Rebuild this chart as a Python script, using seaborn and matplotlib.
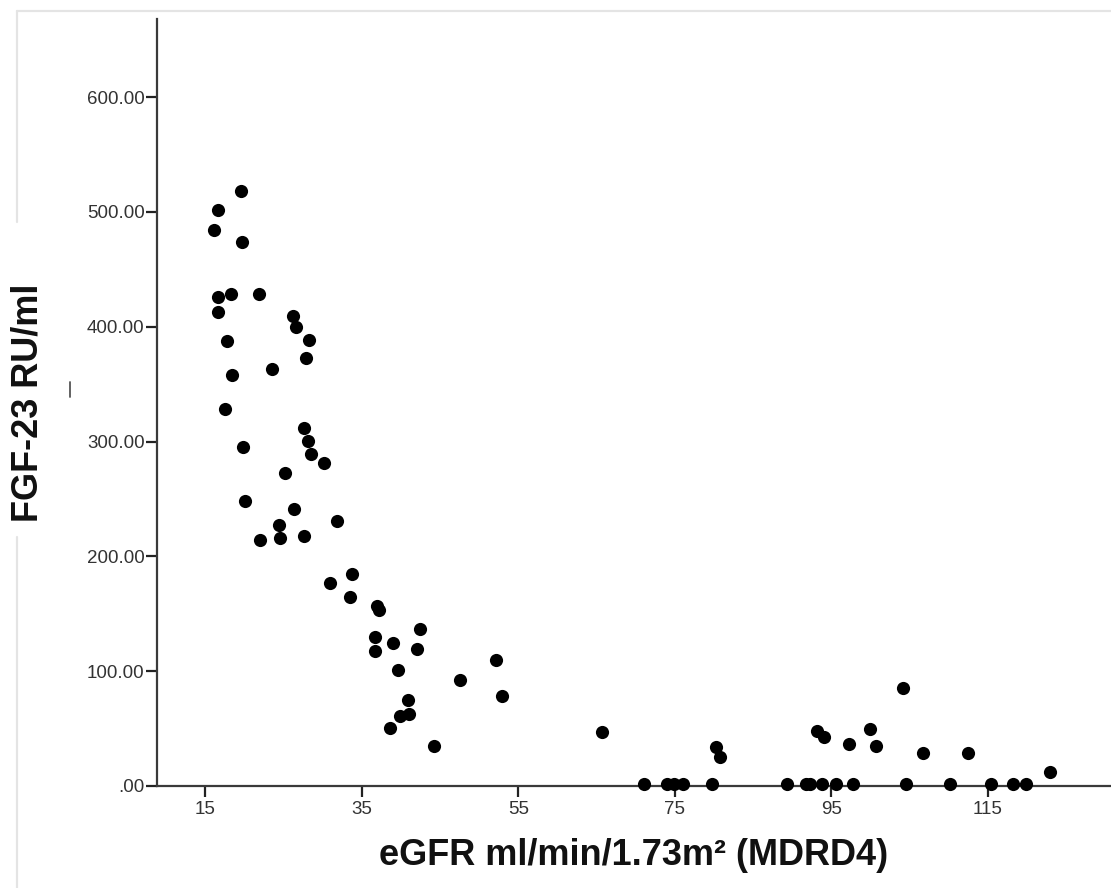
import matplotlib
matplotlib.use("Agg")
import matplotlib.pyplot as plt
from matplotlib.lines import Line2D
import seaborn as sns
import pandas as pd

# ---- data ----
egfr = [19.6, 16.7, 16.1, 19.7, 16.6, 18.3, 21.9, 16.7, 26.3, 26.6,
        28.3, 17.8, 27.9, 23.5, 18.5, 17.6, 27.6, 28.2, 28.5, 19.9,
        30.2, 25.2, 20.1, 26.4, 31.9, 24.5, 22.0, 24.6, 27.6, 33.8,
        30.9, 33.5, 37.0, 37.2, 42.4, 36.7, 39.0, 36.7, 42.1, 39.6,
        47.6, 40.9, 39.9, 41.1, 38.6, 44.2, 52.2, 52.9, 65.7, 80.2,
        80.8, 93.1, 94.1, 97.2, 99.9, 100.7, 104.1, 106.7, 112.5, 122.9,
        71.0, 74.0, 74.9, 76.1, 79.7, 89.3, 91.7, 92.2, 93.8, 95.6,
        97.7, 104.5, 110.2, 115.4, 118.2, 119.9]
fgf23 = [518.6, 502.0, 484.0, 473.6, 425.7, 428.3, 428.3, 413.0, 409.6, 399.5,
         388.5, 387.6, 373.1, 363.2, 358.3, 328.4, 312.1, 300.5, 289.2, 295.6,
         281.4, 272.9, 248.3, 241.6, 231.1, 227.0, 214.0, 216.3, 218.0, 184.4,
         177.1, 164.9, 156.8, 153.3, 136.8, 129.8, 124.8, 117.9, 119.1, 101.0,
         92.1, 74.9, 61.2, 63.0, 50.2, 34.6, 109.8, 78.7, 47.3, 33.7,
         25.5, 48.2, 42.3, 37.0, 49.7, 34.6, 85.1, 28.7, 28.7, 12.3,
         1.7, 1.7, 1.7, 1.7, 1.7, 1.7, 1.7, 1.7, 1.7, 1.7,
         1.7, 1.7, 1.7, 1.7, 1.7, 1.7]

x_ticks = [15, 35, 55, 75, 95, 115]
x_tick_labels = ["15", "35", "55", "75", "95", "115"]
y_ticks = [0, 100, 200, 300, 400, 500, 600]
y_tick_labels = [".00", "100.00", "200.00", "300.00", "400.00", "500.00", "600.00"]

x_label = "eGFR ml/min/1.73m² (MDRD4)"
y_label = "FGF-23 RU/ml"

df = pd.DataFrame({"egfr": egfr, "fgf23": fgf23})

sns.set_theme(style="white")
plt.rcParams["font.family"] = ["Liberation Sans", "DejaVu Sans"]

W, H = 1111, 888
fig = plt.figure(figsize=(W / 100, H / 100), dpi=100)
ax = fig.add_axes([157 / W, 1 - 786 / H, (W - 157) / W, (786 - 19) / H])

sns.scatterplot(data=df, x="egfr", y="fgf23", ax=ax, color="black",
                s=90, edgecolor="black", linewidth=0, clip_on=False, zorder=3)

ax.set_xlim(8.87, 130.7)
ax.set_ylim(0, 668)

ax.set_xticks(x_ticks)
ax.set_xticklabels(x_tick_labels)
ax.set_yticks(y_ticks)
ax.set_yticklabels(y_tick_labels)

for side in ["top", "right"]:
    ax.spines[side].set_visible(False)
for side in ["left", "bottom"]:
    ax.spines[side].set_color("#3a3a3a")
    ax.spines[side].set_linewidth(1.6)

ax.tick_params(axis="both", which="major", direction="out", length=8,
               width=1.6, color="#222222", labelsize=13.5,
               labelcolor="#333333", pad=3, bottom=True, left=True)
ax.tick_params(axis="y", pad=1)

ax.set_xlabel(x_label, fontsize=26, fontweight="bold", color="#111111", va="center")
ax.xaxis.set_label_coords(0.5, -0.09)
ax.set_ylabel(y_label, fontsize=26, fontweight="bold", color="#111111", va="center")
ax.yaxis.set_label_coords((28 - 157) / (W - 157), 0.5)

# light frame around the chart area (top and left edges visible)
frame_col = "#e4e4e4"
fig.add_artist(Line2D([17 / W, 1.0], [1 - 10.7 / H, 1 - 10.7 / H],
                      transform=fig.transFigure, color=frame_col, lw=1.6))
fig.add_artist(Line2D([17 / W, 17 / W], [1 - 10.7 / H, 1 - 222 / H],
                      transform=fig.transFigure, color=frame_col, lw=1.6))
fig.add_artist(Line2D([17 / W, 17 / W], [1 - 537 / H, 0.0],
                      transform=fig.transFigure, color=frame_col, lw=1.6))
# small stray mark beside the y label
fig.add_artist(Line2D([70 / W, 70 / W], [1 - 382 / H, 1 - 397 / H],
                      transform=fig.transFigure, color="#555555", lw=1.3))

fig.savefig("out.png", dpi=100, facecolor="white")
